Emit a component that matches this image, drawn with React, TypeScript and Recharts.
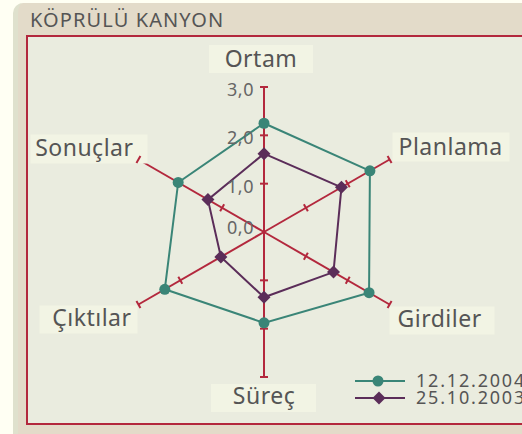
import React from "react";
import { RadarChart, Radar, PolarAngleAxis, PolarRadiusAxis, PolarGrid, Legend } from "recharts";

// categories (clockwise from top) and the two survey dates
const axes = ["Ortam", "Planlama", "Girdiler", "Süreç", "Çıktılar", "Sonuçlar"];
const values2004 = [2.25, 2.53, 2.51, 1.88, 2.37, 2.05];
const values2003 = [1.62, 1.85, 1.66, 1.35, 1.03, 1.34];
const seriesNames = ["12.12.2004", "25.10.2003"];
const radiusTicks = [0, 1, 2, 3];
const title = "KÖPRÜLÜ KANYON";

const data = axes.map((a, i) => ({ axis: a, s2004: values2004[i], s2003: values2003[i] }));

const RED = "#b3283d";
const TEAL = "#3a8577";
const PURPLE = "#5b2d59";
const TEXT = "#555555";
const FONT = "'Noto Sans', sans-serif";

const CX = 264;
const CY = 232;

// spoke directions, degrees counter-clockwise from 3 o'clock
const spokeAngles = [90, 30, -30, -90, -150, 150];

// label boxes, relative to the tick point the angle axis hands us
const labelLayout: Record<string, { bx: number; by: number; bw: number; bh: number; tx: number; ty: number; anchor: string }> = {
  Ortam: { bx: -55, by: -34, bw: 104, bh: 28, tx: -3, ty: -12, anchor: "middle" },
  Planlama: { bx: -4, by: -23, bw: 117, bh: 29, tx: 2, ty: -1, anchor: "start" },
  Girdiler: { bx: -7, by: -2, bw: 105, bh: 28, tx: 1, ty: 18, anchor: "start" },
  "Süreç": { bx: -53, by: -1, bw: 105, bh: 28, tx: 0, ty: 19, anchor: "middle" },
  "Çıktılar": { bx: -92, by: -3, bw: 98, bh: 28, tx: 0, ty: 17, anchor: "end" },
  "Sonuçlar": { bx: -101, by: -21, bw: 117, bh: 29, tx: 2, ty: 0, anchor: "end" },
};

function AngleTick(props: any) {
  const { x, y, payload } = props;
  const l = labelLayout[payload.value];
  if (!l) return null;
  return (
    <g>
      <rect x={x + l.bx} y={y + l.by} width={l.bw} height={l.bh} fill="#f2f4e4" />
      <text x={x + l.tx} y={y + l.ty} textAnchor={l.anchor} fill={TEXT} fontFamily={FONT} fontSize={23} letterSpacing={0.5}>
        {payload.value}
      </text>
    </g>
  );
}

// one radius axis (at the top spoke) gives the tick radii; the same marks are repeated on every spoke
function RadiusTick(props: any) {
  const { x, y, payload } = props;
  const cx = props.cx ?? CX;
  const cy = props.cy ?? CY;
  const v = payload.value;
  const r = Math.hypot(x - cx, y - cy);
  return (
    <g>
      {v > 0 &&
        spokeAngles.map((ang) => {
          const rad = (ang * Math.PI) / 180;
          const px = cx + r * Math.cos(rad);
          const py = cy - r * Math.sin(rad);
          const ox = Math.sin(rad) * 4;
          const oy = Math.cos(rad) * 4;
          return <line key={ang} x1={px - ox} y1={py - oy} x2={px + ox} y2={py + oy} stroke={RED} strokeWidth={2} />;
        })}
      <text
        x={x - 10}
        y={v === 0 ? y - 5 : y + 2}
        textAnchor="end"
        dominantBaseline="central"
        fill="#666666"
        fontFamily={FONT}
        fontSize={18}
        letterSpacing={0.5}
      >
        {v.toFixed(1).replace(".", ",")}
      </text>
    </g>
  );
}

const diamond = (p: any) => (
  <polygon
    key={`d-${p.index}`}
    points={`${p.cx},${p.cy - 6.5} ${p.cx + 6.5},${p.cy} ${p.cx},${p.cy + 6.5} ${p.cx - 6.5},${p.cy}`}
    fill={PURPLE}
  />
);

function LegendContent(props: any) {
  const items = props.payload || [];
  return (
    <svg width={180} height={40} style={{ overflow: "visible" }}>
      {items.map((it: any, i: number) => {
        const y = 10 + i * 17;
        return (
          <g key={it.value}>
            <line x1={0} x2={50} y1={y} y2={y} stroke={it.color} strokeWidth={2} />
            {i === 0 ? (
              <circle cx={23} cy={y} r={5.5} fill={it.color} />
            ) : (
              <polygon points={`24,${y - 6.5} 30.5,${y} 24,${y + 6.5} 17.5,${y}`} fill={it.color} />
            )}
            <text x={61} y={y + 6} fill={TEXT} fontFamily={FONT} fontSize={18} letterSpacing={1.8}>
              {it.value}
            </text>
          </g>
        );
      })}
    </svg>
  );
}

export default function App() {
  return (
    <div style={{ position: "fixed", left: 0, top: 0, width: 522, height: 434, background: "#fffff3", overflow: "hidden" }}>
      <div
        style={{
          position: "absolute",
          left: 13,
          top: 3,
          width: 540,
          height: 460,
          background: "#e3dbc9",
          borderTopLeftRadius: 10,
          borderLeft: "5px solid #dfe1cd",
          boxSizing: "border-box",
        }}
      />
      <div
        style={{
          position: "absolute",
          left: 30,
          top: 7,
          fontFamily: FONT,
          fontSize: 20,
          letterSpacing: 1.1,
          color: TEXT,
          lineHeight: "26px",
        }}
      >
        {title}
      </div>
      <div
        style={{
          position: "absolute",
          left: 26,
          top: 35,
          width: 540,
          height: 386,
          background: "#eaecdf",
          border: `2px solid ${RED}`,
        }}
      />
      <div style={{ position: "absolute", left: 0, top: 0 }}>
        <RadarChart width={522} height={434} data={data} cx={CX} cy={CY} outerRadius={145}>
          <PolarGrid gridType="polygon" radialLines polarRadius={[]} stroke={RED} strokeWidth={2} strokeOpacity={1} />
          <PolarAngleAxis dataKey="axis" axisLine={false} tickLine={false} tick={AngleTick} />
          <PolarRadiusAxis
            angle={90}
            domain={[0, 3]}
            ticks={radiusTicks}
            type="number"
            axisLine={{ stroke: RED, strokeWidth: 2 }}
            tick={RadiusTick}
          />
          <Radar
            name={seriesNames[0]}
            dataKey="s2004"
            stroke={TEAL}
            strokeWidth={2}
            fill="none"
            fillOpacity={0}
            dot={{ r: 5.5, fill: TEAL, stroke: "none", fillOpacity: 1 }}
            isAnimationActive={false}
          />
          <Radar
            name={seriesNames[1]}
            dataKey="s2003"
            stroke={PURPLE}
            strokeWidth={2}
            fill="none"
            fillOpacity={0}
            dot={diamond}
            isAnimationActive={false}
          />
          <Legend
            content={LegendContent}
            wrapperStyle={{ position: "absolute", left: 355, top: 371, width: 180, height: 40 }}
          />
        </RadarChart>
      </div>
    </div>
  );
}
